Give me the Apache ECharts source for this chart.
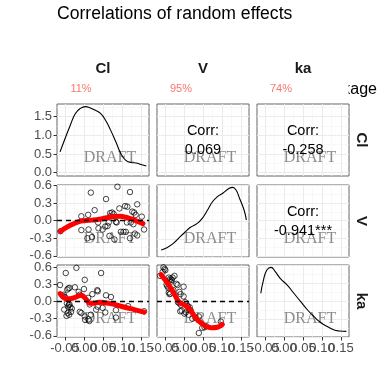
<!DOCTYPE html>
<html><head><meta charset="utf-8">
<script src="https://cdn.jsdelivr.net/npm/echarts@6/dist/echarts.min.js"></script>
<style>html,body{margin:0;padding:0;background:#fff}#c{width:384px;height:384px}</style>
</head><body><div id="c"></div>
<script>
// ---------------- data ----------------
const chartTitle = 'Correlations of random effects';
const varNames = ['Cl', 'V', 'ka'];
const shrinkage = ['11%', '95%', '74%'];
const legendText = 'Shrinkage';
const corrValues = ['0.069', '-0.258', '-0.941***'];
const corrPanels = [[0, 1], [0, 2], [1, 2]];

const xTicks = [-0.05, 0, 0.05, 0.10, 0.15];
const xMinor = [-0.025, 0.025, 0.075, 0.125];
const xRange = [-0.071, 0.171];
const clDensTicks = [0, 0.5, 1.0, 1.5];
const clDensMinor = [0.25, 0.75, 1.25, 1.75];
const clDensRange = [-0.09, 1.84];
const etaTicks = [-0.6, -0.3, 0, 0.3, 0.6];
const etaMinor = [-0.45, -0.15, 0.15, 0.45];
const vRowRange = [-0.62, 0.61];
const kaRowRange = [-0.62, 0.64];
const densTicks = [0, 2, 4, 6, 8];
const densMinor = [1, 3, 5, 7];
const densRange = [0, 8];

const clDensity = [[-0.063,0.555],[-0.05,0.91],[-0.036,1.27],[-0.023,1.58],[-0.01,1.72],[0.004,1.77],[0.017,1.73],[0.03,1.67],[0.044,1.58],[0.057,1.40],[0.07,1.14],[0.084,0.82],[0.097,0.51],[0.11,0.33],[0.124,0.27],[0.137,0.26],[0.15,0.22],[0.164,0.18]];
const vDensity = [[-0.06,0.78],[-0.045,1.03],[-0.028,1.52],[-0.01,2.26],[0.004,2.81],[0.017,3.3],[0.035,3.74],[0.048,4.3],[0.062,5.22],[0.075,6.14],[0.088,6.7],[0.102,7.08],[0.119,7.63],[0.128,7.74],[0.137,7.44],[0.146,6.52],[0.158,5.22],[0.164,4.11]];
const kaDensity = [[-0.061,4.86],[-0.054,6.33],[-0.045,7.44],[-0.034,7.74],[-0.023,7.26],[-0.01,6.52],[0.008,5.78],[0.026,4.86],[0.044,3.92],[0.062,3.0],[0.079,2.26],[0.097,1.59],[0.115,1.14],[0.132,0.78],[0.146,0.67],[0.164,0.63]];

const clVsV = [[-0.062,-0.18],[-0.007,0.075],[0.011,0.10],[-0.007,-0.16],[0.012,-0.15],[0.018,0.48],[0.028,0.18],[0.021,-0.28],[0.009,-0.30],[0.037,-0.03],[0.038,-0.13],[0.049,-0.15],[0.056,-0.10],[0.065,-0.03],[0.058,0.37],[0.069,0.13],[0.074,0.14],[0.078,0.115],[0.086,-0.03],[0.067,-0.26],[0.080,-0.32],[0.088,0.58],[0.093,0.21],[0.108,0.25],[0.097,-0.19],[0.104,-0.19],[0.110,-0.19],[0.114,0.24],[0.113,-0.03],[0.121,0.49],[0.121,-0.30],[0.123,-0.03],[0.127,0.155],[0.132,0.14],[0.136,0.10],[0.134,-0.22],[0.140,-0.25],[0.140,0.28],[0.152,0.07],[0.158,-0.15],[0.130,-0.06],[0.062,-0.09],[0.084,-0.02],[0.069,0.075]];
const clVsVSmooth = [[-0.062,-0.18],[-0.045,-0.11],[-0.03,-0.06],[-0.015,-0.02],[0,0.0],[0.02,0.01],[0.04,0.025],[0.06,0.05],[0.08,0.07],[0.095,0.075],[0.11,0.06],[0.125,0.03],[0.14,-0.01],[0.155,-0.05]];

const clVsKa = [[-0.063,0.29],[-0.048,0.50],[-0.020,0.59],[0.045,0.50],[0.002,0.38],[-0.041,0.23],[-0.044,0.21],[-0.038,0.24],[-0.024,0.25],[0.0,0.22],[0.036,0.18],[0.058,0.11],[0.071,0.08],[-0.053,0.12],[-0.056,0.10],[-0.050,0.08],[-0.011,0.12],[0.011,0.065],[-0.045,-0.03],[-0.040,-0.06],[-0.042,-0.09],[-0.036,-0.10],[-0.032,-0.12],[-0.038,-0.05],[-0.052,-0.14],[-0.043,-0.20],[-0.039,-0.23],[-0.034,-0.18],[-0.046,-0.25],[-0.011,-0.18],[-0.007,-0.20],[0.002,-0.26],[0.003,-0.32],[0.012,-0.31],[0.014,-0.34],[0.018,-0.23],[0.032,-0.14],[0.036,-0.09],[0.049,-0.11],[0.015,-0.05],[0.056,-0.19],[0.084,-0.28],[0.116,-0.08],[0.158,-0.17],[0.084,-0.15],[0.035,0.20],[-0.014,0.17],[0.022,0.13]];
const clVsKaSmooth = [[-0.063,0.14],[-0.055,0.08],[-0.047,0.05],[-0.037,0.05],[-0.025,0.07],[-0.014,0.10],[-0.007,0.11],[0.0,0.08],[0.008,0.02],[0.016,-0.03],[0.026,-0.03],[0.04,-0.01],[0.055,-0.02],[0.08,-0.05],[0.105,-0.095],[0.132,-0.14],[0.158,-0.185]];

const vVsKa = [[-0.054,0.60],[-0.051,0.57],[-0.056,0.52],[-0.049,0.55],[-0.063,0.45],[-0.040,0.42],[-0.036,0.40],[-0.032,0.38],[-0.034,0.35],[-0.038,0.37],[-0.030,0.42],[-0.046,0.30],[-0.044,0.27],[-0.041,0.24],[-0.040,0.16],[-0.038,0.13],[-0.036,0.14],[-0.020,0.31],[-0.017,0.29],[-0.001,0.26],[-0.012,0.17],[-0.009,0.13],[-0.001,0.09],[-0.016,-0.01],[-0.012,-0.03],[-0.008,-0.06],[0.003,-0.01],[0.007,-0.05],[0.010,-0.08],[0.015,-0.10],[-0.010,-0.17],[-0.006,-0.16],[0.001,-0.21],[0.005,-0.19],[0.013,-0.13],[0.018,-0.16],[0.012,-0.23],[0.030,-0.28],[0.039,-0.26],[0.048,-0.46],[0.054,-0.45],[0.058,-0.43],[0.039,-0.55],[0.097,-0.35],[-0.025,0.45],[-0.028,0.20],[0.022,-0.30]];
const vVsKaSmooth = [[-0.06,0.47],[-0.05,0.38],[-0.041,0.30],[-0.027,0.15],[-0.014,0.0],[-0.005,-0.04],[0.004,-0.07],[0.013,-0.12],[0.022,-0.20],[0.03,-0.28],[0.039,-0.34],[0.048,-0.39],[0.057,-0.43],[0.066,-0.45],[0.075,-0.46],[0.088,-0.45],[0.101,-0.40]];

// ---------------- layout ----------------
const colLeft = [57, 157, 257];
const rowTop = [104, 185, 265];
const PW = 92, PH = 72;
const FONT = '"Liberation Sans", Arial, Helvetica, sans-serif';

const yCfg = [
  [clDensRange, clDensTicks, clDensMinor], [clDensRange, clDensTicks, clDensMinor], [clDensRange, clDensTicks, clDensMinor],
  [vRowRange, etaTicks, etaMinor], [densRange, densTicks, densMinor], [vRowRange, etaTicks, etaMinor],
  [kaRowRange, etaTicks, etaMinor], [kaRowRange, etaTicks, etaMinor], [densRange, densTicks, densMinor]
];

// x labels split into two interleaved sets so neighbours never collide inside one axis
const xLabelSets = [xTicks.filter((v, i) => i % 2 === 0), xTicks.filter((v, i) => i % 2 === 1)];

const grids = [], xAxes = [], yAxes = [], series = [], graphics = [];
const majorLine = {show: true, lineStyle: {color: '#EBEBEB', width: 1}};
const minorLine = {show: true, lineStyle: {color: '#F4F4F4', width: 0.6}};
const labelStyle = {fontSize: 13, color: '#4D4D4D', fontFamily: FONT, hideOverlap: false};
const xIdx = [], yIdx = [];

for (let r = 0; r < 3; r++) {
  for (let c = 0; c < 3; c++) {
    const p = r * 3 + c;
    grids.push({left: colLeft[c], top: rowTop[r], width: PW, height: PH, show: true,
      borderColor: '#666', borderWidth: 1, backgroundColor: '#fff', outerBoundsMode: 'none', containLabel: false});
    xIdx[p] = xAxes.length;
    xAxes.push({gridIndex: p, type: 'value', position: 'bottom', min: xRange[0], max: xRange[1],
      axisLine: {show: false, onZero: false},
      axisTick: {show: r === 2, customValues: xTicks, length: 3.5, lineStyle: {color: '#333', width: 1}},
      axisLabel: {show: false, customValues: xTicks},
      splitLine: majorLine});
    xAxes.push({gridIndex: p, type: 'value', position: 'top', min: xRange[0], max: xRange[1],
      axisLine: {show: false, onZero: false}, axisTick: {show: false, customValues: xMinor}, axisLabel: {show: false},
      splitLine: minorLine});
    if (r === 2) {
      xLabelSets.forEach(set => {
        xAxes.push({gridIndex: p, type: 'value', position: 'bottom', min: xRange[0], max: xRange[1],
          axisLine: {show: false, onZero: false}, axisTick: {show: false, customValues: set},
          axisLabel: Object.assign({show: true, customValues: set, margin: 5, formatter: v => v.toFixed(2)}, labelStyle),
          splitLine: {show: false}});
      });
    }
    const [rg, tk, mn] = yCfg[p];
    yIdx[p] = yAxes.length;
    yAxes.push({gridIndex: p, type: 'value', position: 'left', min: rg[0], max: rg[1],
      axisLine: {show: false, onZero: false},
      axisTick: {show: c === 0, customValues: tk, length: 3.5, lineStyle: {color: '#333', width: 1}},
      axisLabel: Object.assign({show: c === 0, customValues: tk, margin: 5, formatter: v => v.toFixed(1)}, labelStyle),
      splitLine: majorLine});
    yAxes.push({gridIndex: p, type: 'value', position: 'right', min: rg[0], max: rg[1],
      axisLine: {show: false, onZero: false}, axisTick: {show: false, customValues: mn}, axisLabel: {show: false},
      splitLine: minorLine});
    // watermark
    graphics.push({type: 'text', z: 1, x: colLeft[c] + PW / 2 + 7, y: rowTop[r] + 54,
      style: {text: 'DRAFT', fill: '#8C8C8C', font: '16px "Liberation Serif", "DejaVu Serif", serif', textAlign: 'center', textVerticalAlign: 'middle'}});
  }
}

function densSeries(p, data) {
  series.push({type: 'line', xAxisIndex: xIdx[p], yAxisIndex: yIdx[p], data: data, smooth: 0.5,
    symbol: 'none', silent: true, lineStyle: {color: '#000', width: 1.1}, z: 3});
}
function scatterSeries(p, pts, smooth) {
  series.push({type: 'scatter', xAxisIndex: xIdx[p], yAxisIndex: yIdx[p], data: pts, symbol: 'circle', symbolSize: 5.5,
    silent: true, itemStyle: {color: 'rgba(0,0,0,0)', borderColor: '#000', borderWidth: 0.9}, z: 2,
    markLine: {silent: true, symbol: 'none', label: {show: false}, animation: false,
      lineStyle: {color: '#000', type: [5, 4], width: 1.3}, data: [{yAxis: 0}]}});
  series.push({type: 'line', xAxisIndex: xIdx[p], yAxisIndex: yIdx[p], data: smooth, smooth: 0.5,
    symbol: 'none', silent: true, lineStyle: {color: '#FF0000', width: 5, cap: 'round', join: 'round'}, z: 4});
}
densSeries(0, clDensity);
densSeries(4, vDensity);
densSeries(8, kaDensity);
scatterSeries(3, clVsV, clVsVSmooth);
scatterSeries(6, clVsKa, clVsKaSmooth);
scatterSeries(7, vVsKa, vVsKaSmooth);

// correlation texts
corrPanels.forEach(([r, c], i) => {
  const cx = colLeft[c] + PW / 2;
  graphics.push({type: 'text', z: 10, x: cx, y: rowTop[r] + 27,
    style: {text: 'Corr:', fill: '#000', font: '14.5px ' + FONT, textAlign: 'center', textVerticalAlign: 'middle'}});
  graphics.push({type: 'text', z: 10, x: cx, y: rowTop[r] + 46,
    style: {text: corrValues[i], fill: '#000', font: '14.5px ' + FONT, textAlign: 'center', textVerticalAlign: 'middle'}});
});

// title
graphics.push({type: 'text', z: 10, x: 57, y: 14,
  style: {text: chartTitle, fill: '#000', font: '17.6px ' + FONT, textAlign: 'left', textVerticalAlign: 'middle'}});
// column strips, shrinkage and row strips
for (let i = 0; i < 3; i++) {
  graphics.push({type: 'text', z: 10, x: colLeft[i] + PW / 2, y: 69,
    style: {text: varNames[i], fill: '#1A1A1A', font: 'bold 15px ' + FONT, textAlign: 'center', textVerticalAlign: 'middle'}});
  graphics.push({type: 'text', z: 10, x: colLeft[i] + 24, y: 89,
    style: {text: shrinkage[i], fill: '#F8766D', font: '11px ' + FONT, textAlign: 'center', textVerticalAlign: 'middle'}});
  graphics.push({type: 'text', z: 10, x: 361.5, y: rowTop[i] + PH / 2, rotation: -Math.PI / 2,
    style: {text: varNames[i], fill: '#1A1A1A', font: 'bold 15px ' + FONT, textAlign: 'center', textVerticalAlign: 'middle'}});
}
graphics.push({type: 'text', z: 4, x: 377, y: 90,
  style: {text: legendText, fill: '#000', font: '16px ' + FONT, textAlign: 'right', textVerticalAlign: 'middle'}});
graphics.push({type: 'rect', z: 5, shape: {x: 300, y: 78, width: 48.6, height: 24}, style: {fill: '#fff'}});

const chart = echarts.init(document.getElementById('c'), null, {renderer: 'canvas'});
chart.setOption({
  animation: false,
  backgroundColor: '#fff',
  grid: grids, xAxis: xAxes, yAxis: yAxes, series: series, graphic: graphics
});
</script></body></html>
